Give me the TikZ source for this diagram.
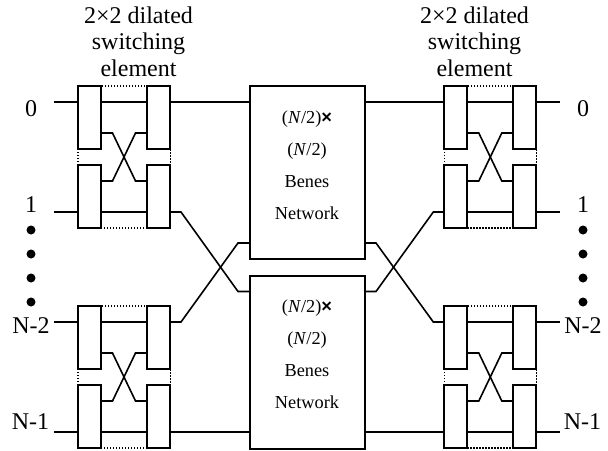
\documentclass[tikz,border=0pt]{standalone}
\usepackage{fontspec}
\setmainfont{Liberation Serif}
\newfontfamily\crossfont{Liberation Sans}
\usetikzlibrary{calc}
\tikzset{
  wire/.style={line width=1.6pt,line cap=butt,line join=miter},
  col/.style={draw,fill=white,line width=2pt,minimum width=23pt,minimum height=63pt,inner sep=0pt,outer sep=0pt,anchor=north west},
  benes/.style={draw,fill=white,line width=2pt,minimum width=115pt,minimum height=173pt,inner sep=0pt,outer sep=0pt,anchor=north west},
  dotframe/.style={line width=1.1pt,dash pattern=on 1.2pt off 1.8pt},
  big/.style={font=\fontsize{24}{24}\selectfont,inner sep=0pt,anchor=base},
  small/.style={font=\fontsize{18.3}{18.3}\selectfont,inner sep=0pt,anchor=base},
  blob/.style={circle,fill=black,inner sep=0pt,minimum size=9pt}
}
\newcommand{\element}[3]{% prefix, left x, top y
  \draw[dotframe] (#2,#3) rectangle ++(92.5,142);
  \node[col] (#1A) at (#2,#3) {};
  \node[col] (#1B) at (#2+69,#3) {};
  \node[col] (#1C) at (#2,#3+79) {};
  \node[col] (#1D) at (#2+69,#3+79) {};
  \coordinate (#1a1) at ([yshift=-16pt]#1A.north east);
  \coordinate (#1a2) at ([yshift=-47pt]#1A.north east);
  \coordinate (#1b1) at ([yshift=-16pt]#1B.north west);
  \coordinate (#1b2) at ([yshift=-47pt]#1B.north west);
  \coordinate (#1c1) at ([yshift=-16pt]#1C.north east);
  \coordinate (#1c2) at ([yshift=-47pt]#1C.north east);
  \coordinate (#1d1) at ([yshift=-16pt]#1D.north west);
  \coordinate (#1d2) at ([yshift=-47pt]#1D.north west);
  \coordinate (#1iu) at ([yshift=-16pt]#1A.north west);
  \coordinate (#1il) at ([yshift=-47pt]#1C.north west);
  \coordinate (#1ou) at ([yshift=-16pt]#1B.north east);
  \coordinate (#1ol) at ([yshift=-47pt]#1D.north east);
  \draw[wire] (#1a1) -- (#1b1);
  \draw[wire] (#1c2) -- (#1d2);
  \draw[wire] (#1a2) -- ++(11.5,0) -- ($(#1d1)+(-11.5,0)$) -- (#1d1);
  \draw[wire] (#1c1) -- ++(11.5,0) -- ($(#1b2)+(-11.5,0)$) -- (#1b2);
}
\begin{document}
\begin{tikzpicture}[x=1pt,y=-1pt]
\useasboundingbox (0,0) rectangle (608,450);
% switching elements
\element{p}{78}{86}
\element{q}{78}{306}
\element{r}{444.3}{86}
\element{s}{444.3}{306}
% Benes networks
\node[benes] (U) at (249.5,86) {};
\node[benes] (L) at (249.5,275.5) {};
\coordinate (Uil) at ([yshift=16pt]U.south west);
\coordinate (Uol) at ([yshift=16pt]U.south east);
\coordinate (Uiu) at ([yshift=-16pt]U.north west);
\coordinate (Uou) at ([yshift=-16pt]U.north east);
\coordinate (Liu) at ([yshift=-16pt]L.north west);
\coordinate (Lou) at ([yshift=-16pt]L.north east);
\coordinate (Lil) at ([yshift=16.5pt]L.south west);
\coordinate (Lol) at ([yshift=16.5pt]L.south east);
% free ends of the outer stubs
\coordinate (t0) at ([xshift=-24pt]piu);
\coordinate (t1) at ([xshift=-24pt]pil);
\coordinate (t2) at ([xshift=-24pt]qiu);
\coordinate (t3) at ([xshift=-24pt]qil);
\coordinate (v0) at ([xshift=23.5pt]rou);
\coordinate (v1) at ([xshift=23.5pt]rol);
\coordinate (v2) at ([xshift=23.5pt]sou);
\coordinate (v3) at ([xshift=23.5pt]sol);
\draw[wire] (t0) -- (piu);
\draw[wire] (t1) -- (pil);
\draw[wire] (t2) -- (qiu);
\draw[wire] (t3) -- (qil);
\draw[wire] (rou) -- (v0);
\draw[wire] (rol) -- (v1);
\draw[wire] (sou) -- (v2);
\draw[wire] (sol) -- (v3);
% centre connections
\draw[wire] (pou) -- (Uiu);
\draw[wire] (Uou) -- (riu);
\draw[wire] (qol) -- (Lil);
\draw[wire] (Lol) -- (sil);
\draw[wire] (pol) -- ++(11,0) -- ($(Liu)+(-11.5,0)$) -- (Liu);
\draw[wire] (qou) -- ++(11,0) -- ($(Uil)+(-11.5,0)$) -- (Uil);
\draw[wire] (Uol) -- ++(11.5,0) -- ($(siu)+(-11,0)$) -- (siu);
\draw[wire] (Lou) -- ++(11.5,0) -- ($(ril)+(-11,0)$) -- (ril);
% titles
\node[big] (ta) at (138.5,23) {2×2 dilated};
\node[big] (tb) at (138.5,49.5) {switching};
\node[big] (tc) at (138.5,76) {element};
\node[big] (td) at (474.5,23) {2×2 dilated};
\node[big] (te) at (474.5,49.5) {switching};
\node[big] (tf) at (474.5,76) {element};
% port labels
\node[big] (l0) at (31,116) {0};
\node[big] (l1) at (31,212.5) {1};
\node[big] (l2) at (31,333) {N-2};
\node[big] (l3) at (30.5,429) {N-1};
\node[big] (o0) at (583,116) {0};
\node[big] (o1) at (583,212.5) {1};
\node[big] (o2) at (583,333) {N-2};
\node[big] (o3) at (582.5,429) {N-1};
% dots
\foreach \y/\n in {230/a,254/b,278/c,302/d}{
  \node[blob] (dl\n) at (31,\y) {};
  \node[blob] (dr\n) at (583,\y) {};
}
% Benes text
\foreach \b/\d in {u/0,v/189.5}{
  \node[small] (\b1) at (307,123+\d) {(\textit{N}/2){\crossfont\bfseries×}};
  \node[small] (\b2) at (307,155+\d) {(\textit{N}/2)};
  \node[small] (\b3) at (307,187+\d) {Benes};
  \node[small] (\b4) at (307,219+\d) {Network};
}
\end{tikzpicture}
\end{document}
